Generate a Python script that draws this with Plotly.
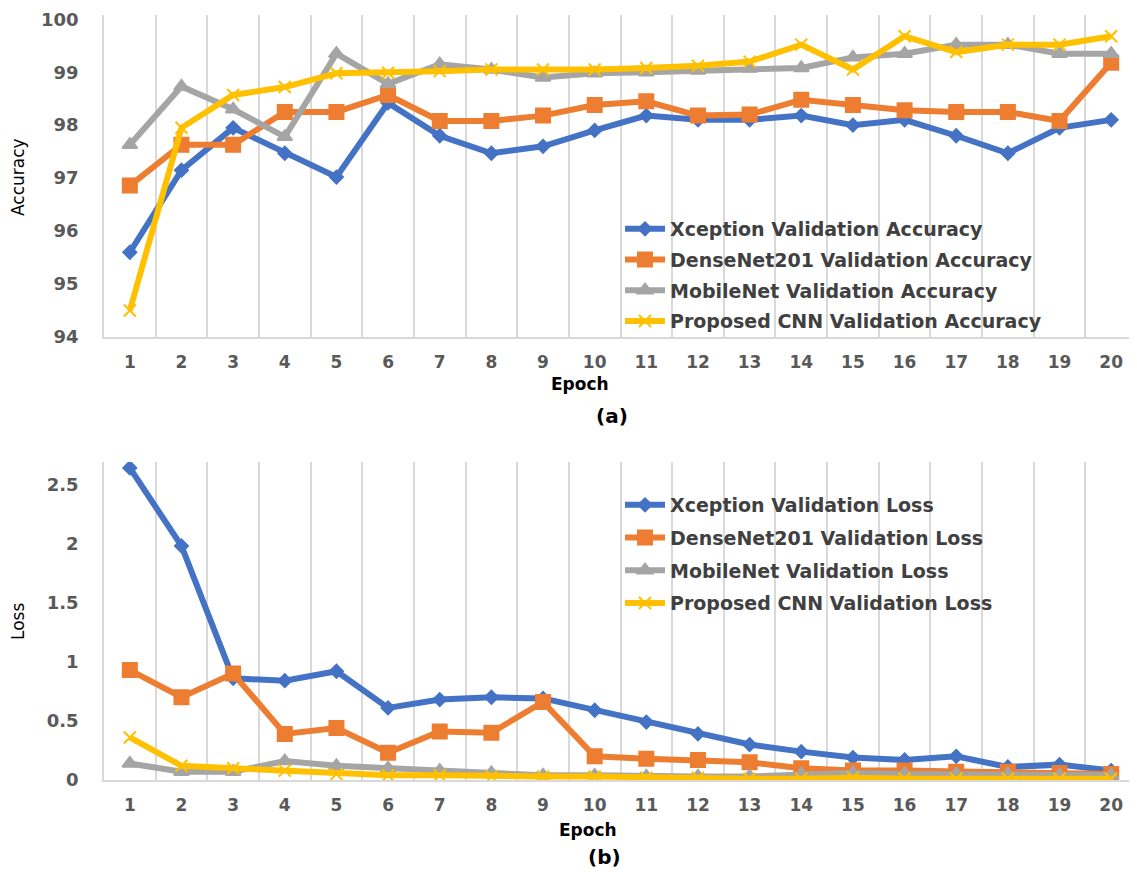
import plotly.graph_objects as go

epochs = list(range(1, 21))

acc_xception = [95.6, 97.15, 97.95, 97.47, 97.02, 98.42, 97.8, 97.47, 97.6, 97.9,
                98.18, 98.1, 98.1, 98.18, 98.0, 98.1, 97.8, 97.47, 97.95, 98.1]
acc_densenet = [96.86, 97.63, 97.63, 98.25, 98.25, 98.57, 98.08, 98.08, 98.18, 98.38,
                98.45, 98.18, 98.2, 98.48, 98.38, 98.28, 98.25, 98.25, 98.08, 99.18]
acc_mobilenet = [97.63, 98.73, 98.3, 97.78, 99.35, 98.78, 99.15, 99.05, 98.9, 98.98,
                 99.0, 99.03, 99.07, 99.08, 99.28, 99.35, 99.52, 99.52, 99.35, 99.35]
acc_proposed = [94.5, 97.95, 98.57, 98.72, 98.98, 98.99, 99.02, 99.05, 99.05, 99.05,
                99.08, 99.12, 99.2, 99.52, 99.05, 99.68, 99.38, 99.52, 99.52, 99.68]

loss_xception = [2.64, 1.98, 0.86, 0.84, 0.92, 0.61, 0.68, 0.70, 0.69, 0.59,
                 0.49, 0.39, 0.30, 0.24, 0.19, 0.17, 0.20, 0.11, 0.13, 0.08]
loss_densenet = [0.93, 0.70, 0.90, 0.39, 0.44, 0.23, 0.41, 0.40, 0.66, 0.20,
                 0.18, 0.17, 0.15, 0.10, 0.08, 0.08, 0.07, 0.07, 0.06, 0.05]
loss_mobilenet = [0.14, 0.07, 0.07, 0.16, 0.12, 0.10, 0.08, 0.06, 0.04, 0.04,
                  0.03, 0.03, 0.03, 0.05, 0.06, 0.05, 0.05, 0.05, 0.04, 0.04]
loss_proposed = [0.36, 0.12, 0.10, 0.08, 0.05, 0.04, 0.04, 0.03, 0.03, 0.03,
                 0.02, 0.02, 0.01, 0.01, 0.02, 0.01, 0.01, 0.01, 0.01, 0.01]

acc_ticks = [94, 95, 96, 97, 98, 99, 100]
loss_ticks = [0, 0.5, 1, 1.5, 2, 2.5]
loss_ticktext = ["0", "0.5", "1", "1.5", "2", "2.5"]

models = ["Xception", "DenseNet201", "MobileNet", "Proposed CNN"]
colors = ["#4472C4", "#ED7D31", "#A5A5A5", "#FFC000"]
symbols = ["diamond", "square", "triangle-up", "x-thin"]
msizes = [10, 14, 13, 12]

# page has an 8px body margin: figure is drawn at (8, 8) in the window
OFF = 8
W, H = 1137 - OFF, 872 - OFF
FONT = "DejaVu Sans"


def px(x):
    return (x - OFF) / W


def py(y):
    return 1 - (y - OFF) / H


fig = go.Figure()

acc_series = [acc_xception, acc_densenet, acc_mobilenet, acc_proposed]
loss_series = [loss_xception, loss_densenet, loss_mobilenet, loss_proposed]

for i, m in enumerate(models):
    fig.add_trace(go.Scatter(
        x=epochs, y=acc_series[i], mode="lines+markers",
        name=f"{m} Validation Accuracy",
        line=dict(color=colors[i], width=6),
        marker=dict(symbol=symbols[i], size=msizes[i], color=colors[i],
                    line=dict(color=colors[i], width=2)),
        xaxis="x", yaxis="y", legend="legend", legendgroup=f"a{i}",
    ))
for i, m in enumerate(models):
    fig.add_trace(go.Scatter(
        x=epochs, y=loss_series[i], mode="lines+markers",
        name=f"{m} Validation Loss",
        line=dict(color=colors[i], width=6),
        marker=dict(symbol=symbols[i], size=msizes[i], color=colors[i],
                    line=dict(color=colors[i], width=2)),
        xaxis="x2", yaxis="y2", legend="legend2", legendgroup=f"b{i}",
    ))

xdom = [px(104), 1.0]
xaxis_common = dict(
    range=[0.5, 20.5], tickmode="array", tickvals=epochs,
    ticktext=[str(e) for e in epochs], showgrid=False, zeroline=False,
    showline=True, linecolor="#d9d9d9", linewidth=1.5, automargin=False,
    ticks="", ticklabelstandoff=9, ticklabeloverflow="allow",
    tickfont=dict(family=FONT, size=17, color="#595959", weight="bold"),
    minor=dict(tick0=0.5, dtick=1, showgrid=True, gridcolor="#d9d9d9", gridwidth=1.5, ticks=""),
)
yaxis_common = dict(
    showgrid=False, zeroline=False, showline=True, linecolor="#d9d9d9",
    linewidth=1.5, ticks="", ticklabelstandoff=20, automargin=False,
    ticklabeloverflow="allow",
    tickfont=dict(family=FONT, size=18, color="#595959", weight="bold"),
)

fig.update_layout(
    width=W, height=H,
    margin=dict(l=0, r=0, t=0, b=0),
    paper_bgcolor="white", plot_bgcolor="white",
    font=dict(family=FONT, color="#404040"),
    xaxis=dict(domain=xdom, anchor="y", **xaxis_common),
    yaxis=dict(domain=[py(337), py(15)], anchor="x", range=[94, 100.08],
               tickmode="array", tickvals=acc_ticks, **yaxis_common),
    xaxis2=dict(domain=xdom, anchor="y2", **xaxis_common),
    yaxis2=dict(domain=[py(780), py(462)], anchor="x2", range=[0, 2.69],
                tickmode="array", tickvals=loss_ticks,
                ticktext=loss_ticktext, **yaxis_common),
    legend=dict(x=px(620), y=py(210), xanchor="left", yanchor="top",
                bgcolor="rgba(0,0,0,0)", tracegroupgap=3, itemwidth=40,
                font=dict(family=FONT, size=19, color="#404040", weight="bold")),
    legend2=dict(x=px(620), y=py(486), xanchor="left", yanchor="top",
                 bgcolor="rgba(0,0,0,0)", tracegroupgap=5, itemwidth=40,
                 font=dict(family=FONT, size=19, color="#404040", weight="bold")),
    showlegend=True,
)

annots = [
    dict(text="Accuracy", x=18, y=177, textangle=-90, size=17, bold=False),
    dict(text="Loss", x=18, y=622, textangle=-90, size=17, bold=False),
    dict(text="Epoch", x=580, y=384, textangle=0, size=17, bold=True),
    dict(text="(a)", x=612, y=416, textangle=0, size=20, bold=True),
    dict(text="Epoch", x=588, y=830, textangle=0, size=17, bold=True),
    dict(text="(b)", x=604, y=857, textangle=0, size=20, bold=True),
]
for a in annots:
    fig.add_annotation(
        text=a["text"], x=px(a["x"]), y=py(a["y"]), xref="paper", yref="paper",
        showarrow=False, textangle=a["textangle"], xanchor="center", yanchor="middle",
        font=dict(family=FONT, size=a["size"], color="black",
                  weight="bold" if a["bold"] else "normal"),
    )

fig.write_html("out.html")
